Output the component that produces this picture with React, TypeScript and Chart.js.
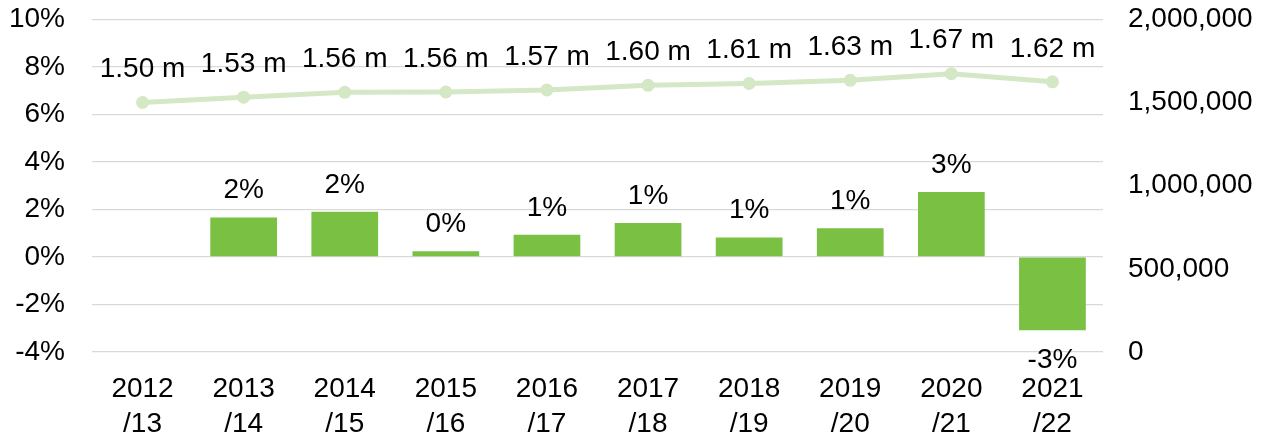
import React, { useEffect, useRef } from 'react';
import { Chart, registerables } from 'chart.js';

Chart.register(...registerables);

const categories: string[][] = [
  ['2012', '/13'], ['2013', '/14'], ['2014', '/15'], ['2015', '/16'], ['2016', '/17'],
  ['2017', '/18'], ['2018', '/19'], ['2019', '/20'], ['2020', '/21'], ['2021', '/22'],
];
const growthPct: (number | null)[] = [null, 1.66, 1.9, 0.24, 0.93, 1.43, 0.82, 1.21, 2.73, -3.08];
const growthLabels: string[] = ['', '2%', '2%', '0%', '1%', '1%', '1%', '1%', '3%', '-3%'];
const totals: number[] = [1500000, 1532000, 1561000, 1563000, 1575000, 1603000, 1614000, 1633000, 1673000, 1624000];
const totalLabels: string[] = ['1.50 m', '1.53 m', '1.56 m', '1.56 m', '1.57 m', '1.60 m', '1.61 m', '1.63 m', '1.67 m', '1.62 m'];
const leftTicks: number[] = [-4, -2, 0, 2, 4, 6, 8, 10];
const rightTicks: number[] = [0, 500000, 1000000, 1500000, 2000000];

const FONT = '"Liberation Sans", Arial, sans-serif';
const FONT_SIZE = 28;

const labelPlugin = {
  id: 'valueLabels',
  afterDatasetsDraw(chart: any) {
    const ctx = chart.ctx;
    ctx.save();
    ctx.font = `${FONT_SIZE}px ${FONT}`;
    ctx.fillStyle = '#000';
    ctx.textAlign = 'center';
    ctx.textBaseline = 'middle';
    const barMeta = chart.getDatasetMeta(0);
    barMeta.data.forEach((el: any, i: number) => {
      const v = growthPct[i];
      if (v == null) return;
      const y = v >= 0 ? el.y - 27 : el.y + 30;
      ctx.fillText(growthLabels[i], el.x, y);
    });
    const lineMeta = chart.getDatasetMeta(1);
    lineMeta.data.forEach((el: any, i: number) => {
      ctx.fillText(totalLabels[i], el.x, el.y - 33);
    });
    ctx.restore();
  },
};

export default function App() {
  const ref = useRef<HTMLCanvasElement | null>(null);
  useEffect(() => {
    if (!ref.current) return;
    const chart = new Chart(ref.current, {
      type: 'bar',
      data: {
        labels: categories as any,
        datasets: [
          {
            type: 'bar',
            data: growthPct as any,
            backgroundColor: '#7AC143',
            yAxisID: 'y',
            barPercentage: 0.66,
            categoryPercentage: 1,
            order: 2,
          },
          {
            type: 'line',
            data: totals,
            borderColor: '#D5E8C5',
            backgroundColor: '#D5E8C5',
            borderWidth: 5,
            pointRadius: 6.5,
            pointBorderWidth: 0,
            pointHoverRadius: 6.5,
            yAxisID: 'y2',
            order: 1,
          } as any,
        ],
      },
      options: {
        animation: false,
        responsive: true,
        maintainAspectRatio: false,
        layout: { padding: { top: 19.3, left: 0, right: 0, bottom: 0 } },
        plugins: { legend: { display: false }, tooltip: { enabled: false } },
        scales: {
          x: {
            grid: { display: false },
            border: { display: false },
            ticks: {
              font: { family: FONT, size: FONT_SIZE, lineHeight: 1.25 },
              color: '#000',
              padding: 12,
              maxRotation: 0,
              autoSkip: false,
            },
            afterFit: (s: any) => { s.height = 82; s.paddingLeft = 0; s.paddingRight = 0; },
          },
          y: {
            position: 'left',
            min: -4,
            max: 10,
            afterBuildTicks: (s: any) => { s.ticks = leftTicks.map((v) => ({ value: v })); },
            ticks: {
              font: { family: FONT, size: FONT_SIZE },
              color: '#000',
              padding: 27,
              callback: (v: any) => `${v}%`,
            },
            grid: { color: '#D9D9D9', lineWidth: 1.3, drawTicks: false },
            border: { display: false },
            afterFit: (s: any) => { s.width = 92; s.paddingTop = 0; s.paddingBottom = 0; },
          },
          y2: {
            position: 'right',
            min: 0,
            max: 2000000,
            afterBuildTicks: (s: any) => { s.ticks = rightTicks.map((v) => ({ value: v })); },
            ticks: {
              font: { family: FONT, size: FONT_SIZE },
              color: '#000',
              padding: 25,
              callback: (v: any) => Number(v).toLocaleString('en-US'),
            },
            grid: { display: false, drawTicks: false },
            border: { display: false },
            afterFit: (s: any) => { s.width = 168; s.paddingTop = 0; s.paddingBottom = 0; },
          },
        },
      },
      plugins: [labelPlugin],
    });
    return () => chart.destroy();
  }, []);
  return (
    <div style={{ position: 'fixed', left: 0, top: 0, width: 1271, height: 434, background: '#fff' }}>
      <canvas ref={ref} />
    </div>
  );
}
